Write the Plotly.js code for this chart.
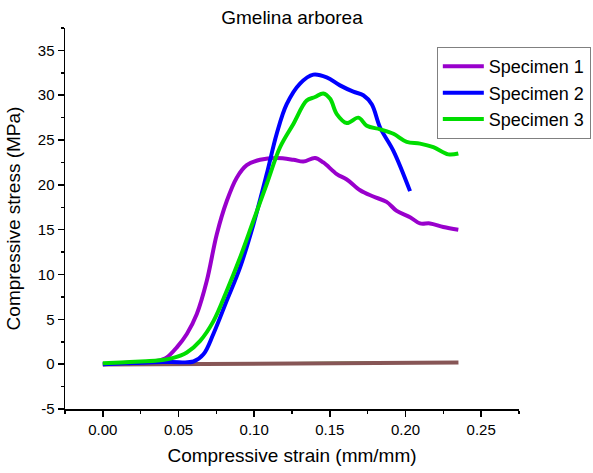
<!DOCTYPE html>
<html>
<head>
<meta charset="utf-8">
<script src="https://cdn.plot.ly/plotly-3.0.1.min.js"></script>
<style>html,body{margin:0;padding:0;background:#fff;}#chart{width:593px;height:473px;}</style>
</head>
<body>
<div id="chart"></div>
<script>
// Specimen 1 (purple)
const s1Strain = [0, 0.010, 0.020, 0.030, 0.0356, 0.0423, 0.0489, 0.0555, 0.0621, 0.0687, 0.0753, 0.0819, 0.0885, 0.0951, 0.1039, 0.1149, 0.1259, 0.1325, 0.1402, 0.1457, 0.1546, 0.1612, 0.1700, 0.1787, 0.1875, 0.1942, 0.2030, 0.2096, 0.2162, 0.2250, 0.2349];
const s1Stress = [0, 0.1, 0.2, 0.25, 0.35, 0.76, 1.88, 3.37, 5.6, 9.3, 14.5, 18.2, 20.8, 22.2, 22.8, 23.0, 22.8, 22.6, 23.0, 22.5, 21.2, 20.6, 19.4, 18.7, 18.1, 17.1, 16.4, 15.7, 15.7, 15.3, 15.0];
// Specimen 2 (blue)
const s2Strain = [0, 0.015, 0.030, 0.045, 0.0599, 0.0665, 0.0731, 0.0819, 0.0907, 0.0995, 0.1083, 0.1149, 0.1215, 0.1303, 0.1391, 0.1479, 0.1567, 0.1655, 0.1721, 0.1777, 0.1832, 0.1920, 0.2030];
const s2Stress = [0, 0.1, 0.2, 0.25, 0.3, 1.1, 3.4, 7.1, 10.8, 15.6, 21.2, 25.7, 29.0, 31.3, 32.3, 32.0, 31.1, 30.4, 30.0, 29.0, 26.4, 23.8, 19.3];
// Specimen 3 (green)
const s3Strain = [0, 0.012, 0.025, 0.036, 0.0466, 0.0555, 0.0643, 0.0731, 0.0819, 0.0907, 0.0995, 0.1083, 0.1171, 0.1259, 0.1347, 0.1402, 0.1457, 0.1502, 0.1546, 0.1612, 0.1689, 0.1744, 0.1832, 0.1920, 0.2008, 0.2096, 0.2184, 0.2283, 0.2349];
const s3Stress = [0.1, 0.2, 0.3, 0.4, 0.7, 1.3, 2.6, 4.8, 8.2, 11.9, 16.0, 20.1, 24.2, 26.8, 29.4, 29.8, 30.2, 29.6, 27.9, 26.9, 27.5, 26.6, 26.2, 25.7, 24.8, 24.6, 24.2, 23.4, 23.5];
// Baseline traces near zero
const baseStrain = [0, 0.235];
const baseStress = [-0.05, 0.2];
const base2Strain = [0.03, 0.203];
const base2Stress = [0.05, 0.25];
// Y tick labels (hyphen minus as in the original)
const yTickVals = [-5, 0, 5, 10, 15, 20, 25, 30, 35];
const yTickText = ['-5', '0', '5', '10', '15', '20', '25', '30', '35'];

const font = 'Liberation Sans, Arial, sans-serif';
const sp = {shape: 'spline', smoothing: 1};
const traces = [
  {x: base2Strain, y: base2Stress, mode: 'lines', line: {color: '#00dd00', width: 1.5}, showlegend: false, hoverinfo: 'skip'},
  {x: baseStrain, y: baseStress, mode: 'lines', line: {color: '#875656', width: 4}, showlegend: false, hoverinfo: 'skip'},
  {x: s1Strain, y: s1Stress, name: 'Specimen 1', mode: 'lines', line: Object.assign({color: '#9900cc', width: 4}, sp)},
  {x: s2Strain, y: s2Stress, name: 'Specimen 2', mode: 'lines', line: Object.assign({color: '#0000ff', width: 4}, sp)},
  {x: s3Strain, y: s3Stress, name: 'Specimen 3', mode: 'lines', line: Object.assign({color: '#00dd00', width: 4}, sp)}
];

const layout = {
  width: 593, height: 473,
  margin: {l: 65, r: 74, t: 28, b: 64, autoexpand: false},
  paper_bgcolor: '#ffffff', plot_bgcolor: '#ffffff',
  font: {family: font, color: '#000000'},
  title: {text: 'Gmelina arborea', font: {size: 19, family: font}, x: 0.4924, xanchor: 'center', y: 0.963, yanchor: 'middle'},
  xaxis: {
    range: [-0.025, 0.275], dtick: 0.05, tick0: 0, tickformat: '.2f',
    showline: true, linecolor: '#000', linewidth: 1.5, mirror: false,
    showgrid: false, zeroline: false,
    ticks: 'outside', ticklen: 6, tickwidth: 1.5, tickcolor: '#000',
    minor: {ticks: 'outside', ticklen: 3, tickwidth: 1.5, tickcolor: '#000', dtick: 0.025, tick0: 0, showgrid: false},
    tickfont: {size: 15, family: font},
    title: {text: 'Compressive strain (mm/mm)', font: {size: 19, family: font}, standoff: 12}
  },
  yaxis: {
    range: [-5, 37.5], tickmode: 'array', tickvals: yTickVals, ticktext: yTickText,
    showline: true, linecolor: '#000', linewidth: 1.5, mirror: false,
    showgrid: false, zeroline: false,
    ticks: 'outside', ticklen: 6, tickwidth: 1.5, tickcolor: '#000',
    minor: {ticks: 'outside', ticklen: 3, tickwidth: 1.5, tickcolor: '#000', dtick: 2.5, tick0: 0, showgrid: false},
    tickfont: {size: 15, family: font},
    title: {text: 'Compressive stress (MPa)', font: {size: 19, family: font}, standoff: 12}
  },
  legend: {
    x: 0.819, xanchor: 'left', y: 0.95, yanchor: 'top',
    bordercolor: '#808080', borderwidth: 1, bgcolor: '#ffffff',
    font: {size: 18, family: font}, itemwidth: 41, tracegroupgap: 0
  },
  showlegend: true
};

Plotly.newPlot('chart', traces, layout, {displayModeBar: false, staticPlot: true});
</script>
</body>
</html>
